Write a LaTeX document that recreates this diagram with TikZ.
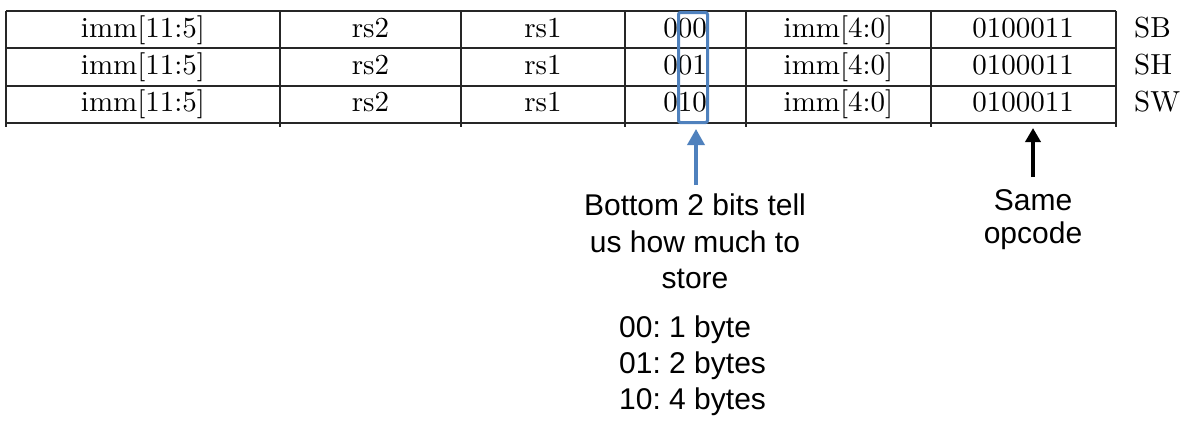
\documentclass[tikz,border=0pt]{standalone}
\usepackage{fontspec}
\newfontfamily\sansf{Liberation Sans}
\newfontfamily\tabf{lmroman10-regular}[Extension=.otf]
\usetikzlibrary{arrows.meta}
\definecolor{boxblue}{RGB}{79,129,189}
\begin{document}
\frenchspacing
\begin{tikzpicture}[x=1pt,y=-1pt,
  cell/.style={anchor=base,inner sep=0pt,font=\tabf\fontsize{29}{35}\selectfont},
  note/.style={anchor=base,inner sep=0pt,font=\sansf\fontsize{30}{36}\selectfont},
  grid/.style={line width=1.3pt,draw=black!85}]
\useasboundingbox (0,0) rectangle (1185,431);
% table lines
\foreach \y in {11,48,86,123} \draw[grid] (6,\y) -- (1116,\y);
\foreach \x in {6,280,461,625,746,931,1116} \draw[grid] (\x,11) -- (\x,127);
% table contents
\foreach \r/\b/\f/\n in {1/37/000/SB,2/74/001/SH,3/111/010/SW} {
  \node[cell] (a\r) at (143,\b) {imm[11:5]};
  \node[cell] (b\r) at (370.5,\b) {rs2};
  \node[cell] (c\r) at (543,\b) {rs1};
  \node[cell] (d\r) at (685,\b) {\f};
  \node[cell] (e\r) at (838.5,\b) {imm[4:0]};
  \node[cell] (f\r) at (1023,\b) {0100011};
  \node[cell,anchor=base west] (g\r) at (1134,\b) {\n};
}
% blue highlight box
\node[draw=boxblue, line width=3pt, rounded corners=2pt, minimum width=29pt,
      minimum height=110pt, inner sep=0pt] (box) at (693,67.5) {};
% notes
\node[note] (bits1) at (695,215) {Bottom 2 bits tell};
\node[note] (bits2) at (695,252) {us how much to};
\node[note] (bits3) at (695,288) {store};
\node[note,anchor=base west] (by1) at (619,337) {00: 1 byte};
\node[note,anchor=base west] (by2) at (619,373) {01: 2 bytes};
\node[note,anchor=base west] (by3) at (619,409) {10: 4 bytes};
\node[note] (same1) at (1033,210) {Same};
\node[note] (same2) at (1033,243) {opcode};
% arrows
\coordinate (bstart) at (696,185);
\coordinate (btip) at (696,129);
\coordinate (ostart) at (1033,177);
\coordinate (otip) at (1033,128);
\draw[boxblue, line width=3.5pt, -{Triangle[width=17pt,length=16pt]}] (bstart) -- (btip);
\draw[black, line width=3.5pt, -{Triangle[width=15pt,length=14pt]}] (ostart) -- (otip);
\end{tikzpicture}
\end{document}
